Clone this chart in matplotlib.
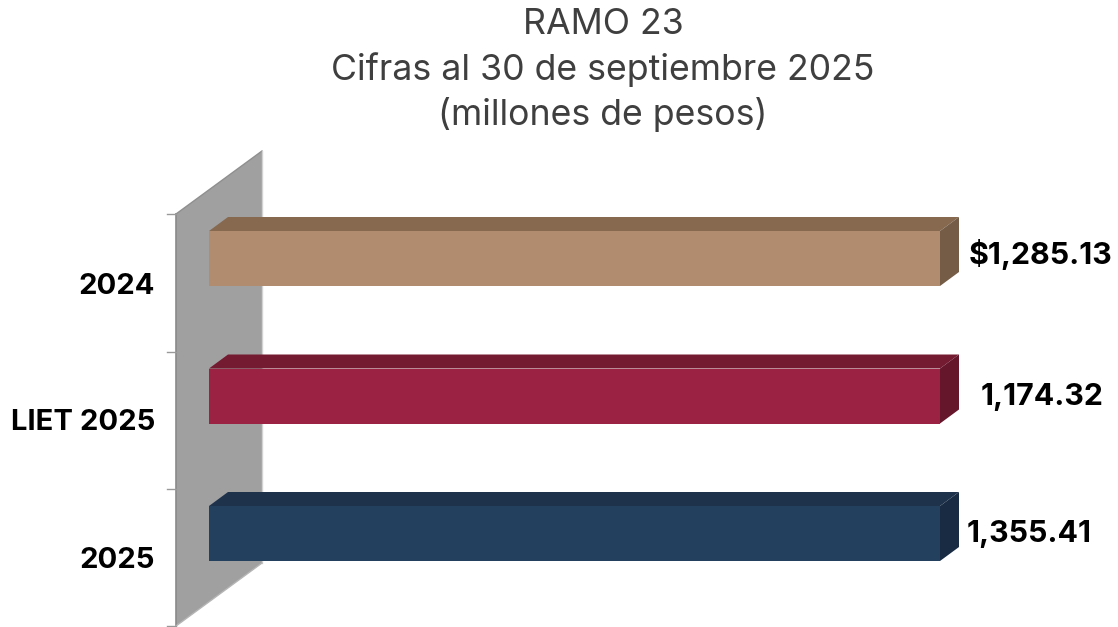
import matplotlib
matplotlib.use("Agg")
from matplotlib import pyplot as plt
from matplotlib.patches import Polygon
from matplotlib.transforms import IdentityTransform

W, H = 1118, 627

categories = ["2024", "LIET 2025", "2025"]
values = [1285.13, 1174.32, 1355.41]
value_prefix = ["$", "", ""]
# en el original las barras salen todas del mismo largo (eje cortado)
bar_lengths = [1.0, 1.0, 1.0]
title_lines = ["RAMO 23", "Cifras al 30 de septiembre 2025", "(millones de pesos)"]

front_colors = ["#B28C6E", "#9B2242", "#24405F"]
top_colors = ["#86694F", "#741A31", "#1E324B"]
side_colors = ["#755C47", "#65162B", "#192B42"]

plt.rcParams['font.family'] = ['Inter', 'DejaVu Sans']

fig = plt.figure(figsize=(W / 100, H / 100), dpi=100, facecolor='white')


def px(x, y):
    # pixeles de la imagen -> pixeles de matplotlib (y hacia arriba)
    return (x, H - y)


ident = IdentityTransform()

# pared gris del grafico 3D, por debajo de los ejes
wall = Polygon([px(176, 214), px(262, 151), px(262, 563), px(176, 626)],
               closed=True, facecolor='#A0A0A0', edgecolor='none', transform=ident, zorder=-3)
fig.add_artist(wall)
fig.add_artist(plt.Line2D(*zip(px(176, 214), px(176, 626)), color='#8A8A8A', lw=1.2, transform=ident, zorder=-2))
fig.add_artist(plt.Line2D(*zip(px(176, 214), px(262, 151)), color='#8F8F8F', lw=1, transform=ident, zorder=-2))
fig.add_artist(plt.Line2D(*zip(px(262, 151), px(262, 563)), color='#D2D2D2', lw=1, transform=ident, zorder=-2))
fig.add_artist(plt.Line2D(*zip(px(176, 626), px(262, 563)), color='#B5B5B5', lw=1, transform=ident, zorder=-2))
for ty in [214, 352, 489, 626]:
    fig.add_artist(plt.Line2D(*zip(px(167, ty), px(176, ty)), color='#999999', lw=1, transform=ident, zorder=-2))

ax = fig.add_axes([209 / W, 1 - 602.25 / H, (940 - 209) / W, (602.25 - 189.75) / H])
ax.patch.set_alpha(0)
ax.set_xlim(0, 1)
ax.set_ylim(2.5, -0.5)
ax.axis('off')

ys = list(range(len(categories)))
bars = ax.barh(ys, bar_lengths, height=0.4, color=front_colors, zorder=3)

# caras de profundidad
dx, dy = 19, 14
fig.canvas.draw()
for i, b in enumerate(bars):
    x0, y0 = ax.transData.transform((b.get_x(), b.get_y() + b.get_height()))
    x1, y1 = ax.transData.transform((b.get_x() + b.get_width(), b.get_y()))
    ax.add_patch(Polygon([(x0, y1), (x0 + dx, y1 + dy), (x1 + dx, y1 + dy), (x1, y1)],
                         facecolor=top_colors[i], edgecolor='none', transform=ident, clip_on=False, zorder=2))
    ax.add_patch(Polygon([(x1, y0), (x1 + dx, y0 + dy), (x1 + dx, y1 + dy), (x1, y1)],
                         facecolor=side_colors[i], edgecolor='none', transform=ident, clip_on=False, zorder=2))

# etiquetas
label_x = [1041, 1042, 1029]
label_y = [255, 397, 534]
for i, v in enumerate(values):
    fig.text(label_x[i] / W, 1 - label_y[i] / H, f"{value_prefix[i]}{v:,.2f}", ha='center', va='center',
             fontsize=21.8, fontweight='bold', color='black')

cat_y = [286, 423, 560]
for c, y in zip(categories, cat_y):
    fig.text(155 / W, 1 - y / H, c, ha='right', va='center', fontsize=21, fontweight='bold', color='black')

title_y = [25, 70, 114]
for t, y in zip(title_lines, title_y):
    fig.text(603 / W, 1 - y / H, t, ha='center', va='center', fontsize=25.7, color='#3F3F3F')

fig.savefig('out.png', dpi=100)
